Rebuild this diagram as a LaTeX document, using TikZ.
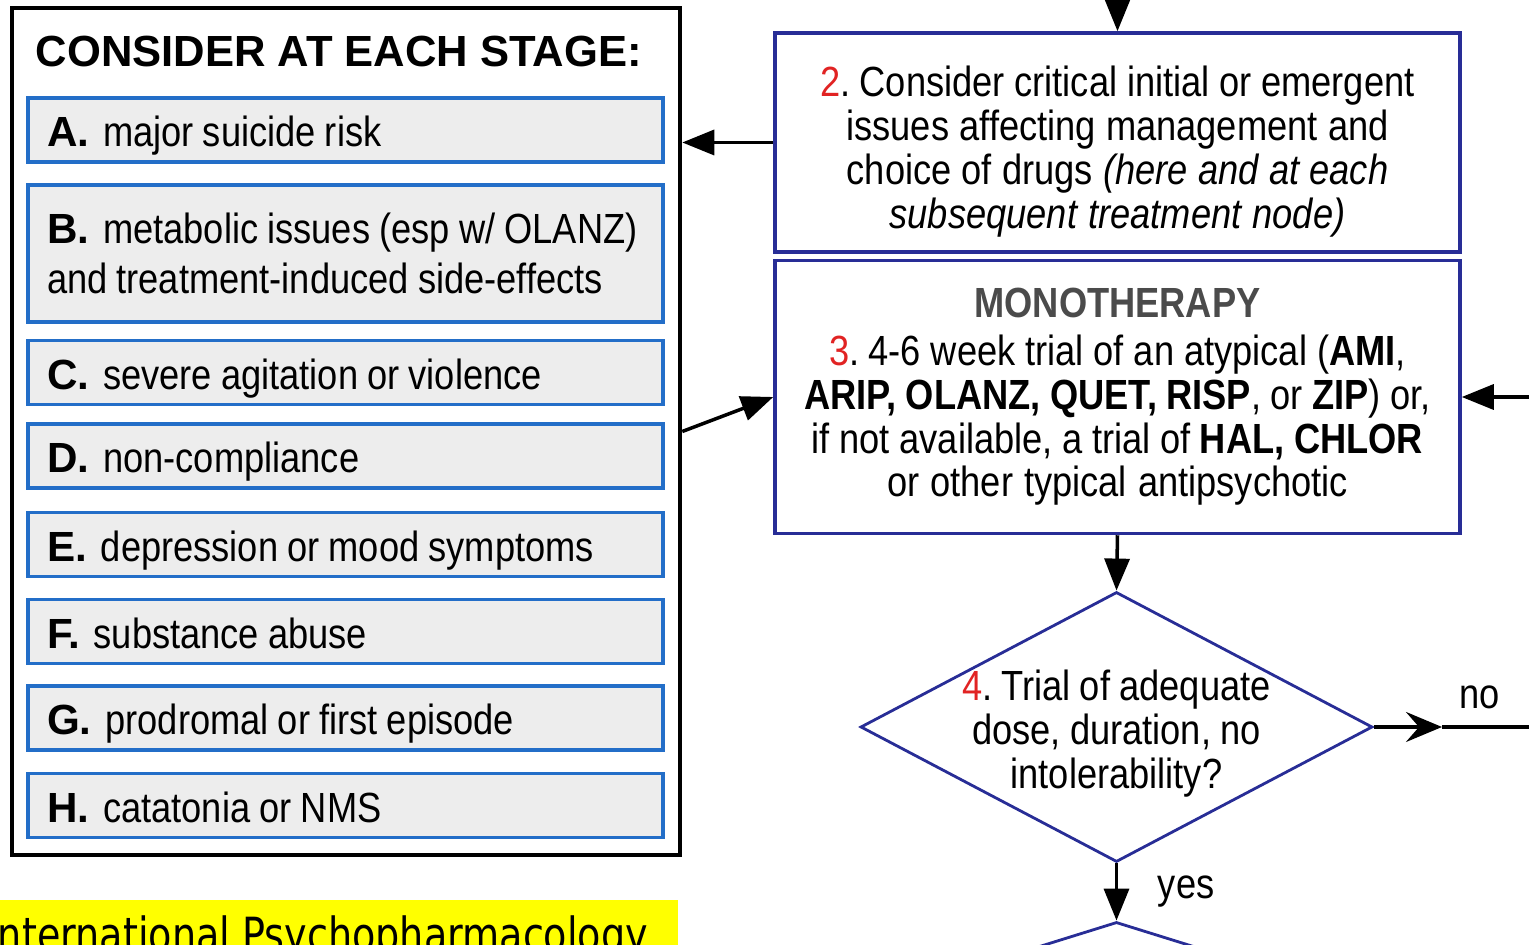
\documentclass[tikz,border=0pt]{standalone}
\usepackage{fontspec}
\setmainfont{Liberation Sans}[FakeStretch=0.86]
\newfontfamily\headfont{Liberation Sans}
\newfontfamily\bannerfont{DejaVu Sans}[FakeStretch=0.81]
\usepackage{xcolor}
\definecolor{itemblue}{RGB}{35,110,200}
\definecolor{itemgray}{RGB}{237,237,237}
\definecolor{stepnavy}{RGB}{40,45,150}
\definecolor{numred}{RGB}{225,35,35}
\definecolor{headgray}{RGB}{75,75,75}
\definecolor{bannery}{RGB}{255,255,0}
\usetikzlibrary{arrows.meta,positioning,shapes.geometric}
\newcommand{\stepno}[1]{\textcolor{numred}{#1}}
\newcommand{\itemlab}[1]{{\headfont\bfseries #1}\hspace{0.14cm}}
\newcommand{\tightsp}{\spaceskip=2.6pt plus 0.5pt minus 0.3pt\xspaceskip=2.6pt\relax}
\tikzset{
	stageframe/.style={
			draw=black,
			line width=1.3pt,
			minimum width=6.68cm,
			minimum height=8.47cm,
			inner sep=0pt
		},
	itembox/.style={
			draw=itemblue,
			fill=itemgray,
			line width=1pt,
			text width=5.97cm,
			inner xsep=0.19cm,
			inner ysep=0pt,
			align=left,
			font=\fontsize{12}{14}\selectfont,
			execute at begin node=\tightsp
		},
	oneline/.style={itembox, minimum height=0.64cm, text height=0.36cm, text depth=0.02cm},
	stepbox/.style={
			draw=stepnavy,
			line width=1pt,
			minimum width=6.85cm,
			text width=6.5cm,
			align=center,
			font=\fontsize{12}{12.5}\selectfont,
			execute at begin node=\tightsp
		},
	decision/.style={diamond, draw=stepnavy, line width=0.8pt, inner sep=0pt},
	arr/.style={line width=1pt, -{Triangle[length=0.32cm, width=0.25cm]}},
	noarr/.style={line width=1pt, -{Stealth[length=0.36cm, width=0.30cm, inset=0.13cm]}}
}

\begin{document}
\begin{tikzpicture}
	\useasboundingbox (0,0) rectangle (15.29,-9.45);
	\clip (0,0) rectangle (15.29,-9.45);

	\node[stageframe] (outer) at (3.46,-4.315) {};
	\node[anchor=base west, inner sep=0pt, font=\headfont\bfseries\fontsize{12.4}{14}\selectfont] (title) at (0.35,-0.67) {CONSIDER AT EACH STAGE:};
	\node[oneline] (itemA) at (3.455,-1.30) {\itemlab{A.}major suicide risk};
	\node[itembox, minimum height=1.37cm] (itemB) at (3.455,-2.535) {\itemlab{B.}metabolic issues (esp w/ OLANZ)\\and treatment-induced side-effects};
	\node[oneline] (itemC) at (3.455,-3.725) {\itemlab{C.}severe agitation or violence};
	\node[oneline] (itemD) at (3.455,-4.56) {\itemlab{D.}non-compliance};
	\node[oneline] (itemE) at (3.455,-5.445) {\itemlab{E.}depression or mood symptoms};
	\node[oneline] (itemF) at (3.455,-6.315) {\itemlab{F.}substance abuse};
	\node[oneline] (itemG) at (3.455,-7.18) {\itemlab{G.}prodromal or first episode};
	\node[oneline] (itemH) at (3.455,-8.055) {\itemlab{H.}catatonia or NMS};

	\node[stepbox, minimum height=2.19cm] (box2) at (11.175,-1.425) {\rule{0pt}{0.49cm}\stepno{2}. Consider critical initial or emergent\\issues affecting management and\\choice of drugs \textit{(here and at each}\\\textit{subsequent treatment node)}};
	\node[stepbox, minimum height=2.73cm, below=0.05cm of box2] (box3) {\textcolor{headgray}{\textbf{MONOTHERAPY}}\\[1pt]\stepno{3}. 4-6 week trial of an atypical (\textbf{AMI},\\\textbf{ARIP, OLANZ, QUET, RISP}, or \textbf{ZIP}) or,\\if not available, a trial of \textbf{HAL, CHLOR}\\or other typical antipsychotic};
	\node[decision, aspect=1.9, minimum width=5.12cm, minimum height=2.70cm,
		label={[font=\fontsize{12}{12.5}\selectfont, align=center, yshift=-0.07cm, execute at begin node=\tightsp]center:\stepno{4}. Trial of adequate\\dose, duration, no\\intolerability?}] (d4) at (11.165,-7.27) {};
	\node[decision, aspect=3.2, minimum width=6.4cm, minimum height=2.0cm] (d5) at (11.165,-10.22) {};

	\coordinate (top) at (11.175,0.1);
	\coordinate (back) at ([xshift=0.8cm]box3.east);
	\coordinate (nomid) at (14.42,-7.27);
	\coordinate (noend) at (15.40,-7.27);

	\draw[arr] (top) -- (box2.north);
	\draw[arr] (box2.west) -- (box2.west -| outer.east);
	\draw[arr] (outer.east) -- (box3.west);
	\draw[arr] (back) -- (box3.east);
	\draw[arr] (box3.south) -- (d4.north);
	\draw[arr] (d4.south) -- node[right=0.28cm, font=\fontsize{12}{12.5}\selectfont] {yes} (d5.north);
	\draw[noarr] (d4.east) -- (nomid);
	\draw[line width=1pt] (nomid) -- node[above=0.05cm, pos=0.38, font=\fontsize{12}{12.5}\selectfont] {no} (noend);

	\fill[bannery] (0,-9.00) rectangle (6.78,-9.60);
	\node[anchor=base west, inner sep=0pt, font=\bannerfont\fontsize{13.4}{14}\selectfont] (ipp) at (-0.14,-9.52) {International Psychopharmacology};
\end{tikzpicture}
\end{document}
